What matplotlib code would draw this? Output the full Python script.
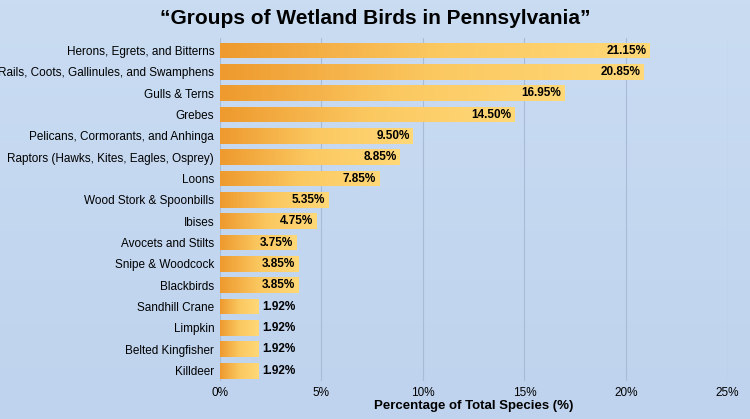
import matplotlib
matplotlib.use("Agg")
import matplotlib.pyplot as plt
import numpy as np
from matplotlib.colors import LinearSegmentedColormap

plt.rcParams['font.family'] = ['Liberation Sans', 'DejaVu Sans']

categories = ["Herons, Egrets, and Bitterns", "Rails, Coots, Gallinules, and Swamphens",
              "Gulls & Terns", "Grebes", "Pelicans, Cormorants, and Anhinga",
              "Raptors (Hawks, Kites, Eagles, Osprey)", "Loons", "Wood Stork & Spoonbills",
              "Ibises", "Avocets and Stilts", "Snipe & Woodcock", "Blackbirds",
              "Sandhill Crane", "Limpkin", "Belted Kingfisher", "Killdeer"]
values = [21.15, 20.85, 16.95, 14.50, 9.50, 8.85, 7.85, 5.35, 4.75, 3.75, 3.85, 3.85,
          1.92, 1.92, 1.92, 1.92]
xticks = [0, 5, 10, 15, 20, 25]

fig = plt.figure(figsize=(7.5, 4.19), dpi=100)
bg = fig.add_axes([0, 0, 1, 1], zorder=-10)
bg.imshow(np.linspace(0, 1, 100).reshape(-1, 1), aspect='auto', extent=[0, 1, 0, 1],
          cmap=LinearSegmentedColormap.from_list('b', ['#c9dcf2', '#bfd3ee']))
bg.axis('off')

ax = fig.add_axes([0.293, 0.09, 0.677, 0.82])
ax.patch.set_alpha(0)
y = np.arange(len(categories))
bars = ax.barh(y, values, height=0.74, color='#f6b54a', zorder=2)
cmap = LinearSegmentedColormap.from_list('o', ['#ee9a2e', '#fbc860', '#ffd878'])
for b in bars:
    x0, y0, w, h = b.get_x(), b.get_y(), b.get_width(), b.get_height()
    im = ax.imshow(np.linspace(0, 1, 100).reshape(1, -1), aspect='auto', cmap=cmap,
                   extent=[x0, x0 + w, y0 + h, y0], zorder=3)
    im.set_clip_path(b)
for yi, v in zip(y, values):
    ax.text(v - 0.15 if v > 3 else v + 0.15, yi, f"{v:.2f}%", ha='right' if v > 3 else 'left',
            va='center', fontsize=8.5, fontweight='bold', zorder=4)
ax.set_xlim(0, 25)
ax.set_ylim(len(categories) - 0.5, -0.6)
ax.set_yticks(y)
ax.set_yticklabels(categories, fontsize=8.5)
ax.set_xticks(xticks)
ax.set_xticklabels([f"{t}%" for t in xticks], fontsize=8.5)
ax.tick_params(length=0, pad=4)
ax.grid(axis='x', color='#a8bcd8', lw=0.8, zorder=0)
for s in ax.spines.values():
    s.set_visible(False)
ax.set_xlabel("Percentage of Total Species (%)", fontsize=9.5, fontweight='bold', labelpad=1)
fig.text(0.5, 0.955, "\u201cGroups of Wetland Birds in Pennsylvania\u201d", ha='center',
         va='center', fontsize=15, fontweight='bold')
fig.savefig("out.png", dpi=100)
